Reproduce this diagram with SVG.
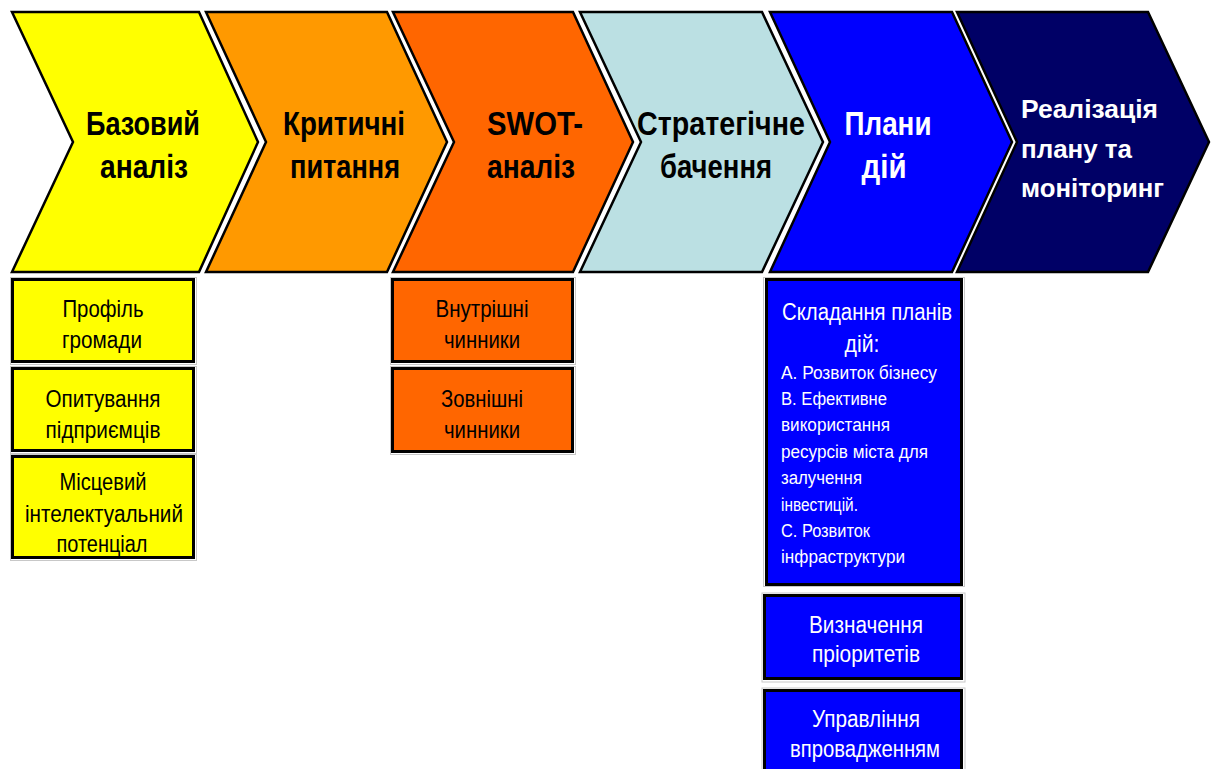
<svg xmlns="http://www.w3.org/2000/svg" width="1212" height="769" viewBox="0 0 1212 769">
<style>
.chev{stroke:#000;stroke-width:2.5;stroke-linejoin:miter}
.box{stroke:#000;stroke-width:3}
.shadow{fill:none;stroke:#c8c8c8;stroke-width:1}
.t{font-family:"Liberation Sans",Arial,sans-serif;font-weight:bold;font-size:34px;text-anchor:middle}
.tr{font-family:"Liberation Sans",Arial,sans-serif;font-weight:bold;font-size:26px}
.s{font-family:"Liberation Sans",Arial,sans-serif;font-size:23px;text-anchor:middle}
.l{font-family:"Liberation Sans",Arial,sans-serif;font-size:18px}
.b{fill:#000}
.w{fill:#fff}
</style>
<rect width="1212" height="769" fill="#fff"/>
<g id="connectors"></g>

<g id="step1">
<path class="chev" fill="#FFFF00" d="M12,12 H199 L258,142 L199,272 H12 L73,142 Z"/>
<text class="t b" x="143" y="135" textLength="114" lengthAdjust="spacingAndGlyphs">Базовий</text>
<text class="t b" x="144" y="178" textLength="88" lengthAdjust="spacingAndGlyphs">аналіз</text>
</g>
<g id="step2">
<path class="chev" fill="#FF9900" d="M206,12 H387 L447,142 L387,272 H206 L266,142 Z"/>
<text class="t b" x="344" y="135" textLength="122" lengthAdjust="spacingAndGlyphs">Критичні</text>
<text class="t b" x="345" y="178" textLength="110" lengthAdjust="spacingAndGlyphs">питання</text>
</g>
<g id="step3">
<path class="chev" fill="#FF6600" d="M393,12 H573 L633,142 L573,272 H393 L454,142 Z"/>
<text class="t b" x="535" y="135" textLength="96" lengthAdjust="spacingAndGlyphs">SWOT-</text>
<text class="t b" x="531" y="178" textLength="88" lengthAdjust="spacingAndGlyphs">аналіз</text>
</g>
<g id="step4">
<path class="chev" fill="#BBE0E3" d="M580,12 H762 L823,142 L762,272 H580 L641,142 Z"/>
<text class="t b" x="721" y="135" textLength="168" lengthAdjust="spacingAndGlyphs">Стратегічне</text>
<text class="t b" x="716" y="178" textLength="112" lengthAdjust="spacingAndGlyphs">бачення</text>
</g>
<g id="step5">
<path class="chev" fill="#0000FF" d="M770,12 H952 L1012,142 L952,272 H770 L830,142 Z"/>
<text class="t w" x="888" y="135" textLength="87" lengthAdjust="spacingAndGlyphs">Плани</text>
<text class="t w" x="884" y="178" textLength="45" lengthAdjust="spacingAndGlyphs">дій</text>
</g>
<g id="step6">
<path class="chev" fill="#000066" d="M957,12 H1148 L1209,142 L1148,272 H957 L1017,142 Z"/>
<text class="tr w" x="1021" y="118" textLength="137" lengthAdjust="spacingAndGlyphs">Реалізація</text>
<text class="tr w" x="1021" y="158" textLength="111" lengthAdjust="spacingAndGlyphs">плану та</text>
<text class="tr w" x="1021" y="197" textLength="143" lengthAdjust="spacingAndGlyphs">моніторинг</text>
</g>

<g id="profile">
<rect class="shadow" x="10.5" y="277.5" width="186" height="87"/>
<rect class="box" fill="#FFFF00" x="12.5" y="279.5" width="181" height="82"/>
<text class="s b" x="103" y="317" textLength="81" lengthAdjust="spacingAndGlyphs">Профіль</text>
<text class="s b" x="102" y="348" textLength="80" lengthAdjust="spacingAndGlyphs">громади</text>
</g>
<g id="survey">
<rect class="shadow" x="10.5" y="366.5" width="186" height="87"/>
<rect class="box" fill="#FFFF00" x="12.5" y="368.5" width="181" height="82"/>
<text class="s b" x="103" y="407" textLength="115" lengthAdjust="spacingAndGlyphs">Опитування</text>
<text class="s b" x="103" y="438" textLength="115" lengthAdjust="spacingAndGlyphs">підприємців</text>
</g>
<g id="potential">
<rect class="shadow" x="10.5" y="454.5" width="186" height="106"/>
<rect class="box" fill="#FFFF00" x="12.5" y="456.5" width="181" height="101"/>
<text class="s b" x="103" y="490" textLength="87" lengthAdjust="spacingAndGlyphs">Місцевий</text>
<text class="s b" x="104" y="522" textLength="158" lengthAdjust="spacingAndGlyphs">інтелектуальний</text>
<text class="s b" x="102" y="552" textLength="91" lengthAdjust="spacingAndGlyphs">потенціал</text>
</g>

<g id="internal">
<rect class="shadow" x="390.5" y="277.5" width="185" height="87"/>
<rect class="box" fill="#FF6600" x="392.5" y="279.5" width="180" height="82"/>
<text class="s b" x="482" y="317" textLength="93" lengthAdjust="spacingAndGlyphs">Внутрішні</text>
<text class="s b" x="482" y="348" textLength="76" lengthAdjust="spacingAndGlyphs">чинники</text>
</g>
<g id="external">
<rect class="shadow" x="390.5" y="366.5" width="185" height="88"/>
<rect class="box" fill="#FF6600" x="392.5" y="368.5" width="180" height="83"/>
<text class="s b" x="482" y="407" textLength="82" lengthAdjust="spacingAndGlyphs">Зовнішні</text>
<text class="s b" x="482" y="438" textLength="76" lengthAdjust="spacingAndGlyphs">чинники</text>
</g>

<g id="plans">
<rect class="shadow" x="763.5" y="277.5" width="201" height="309"/>
<rect class="box" fill="#0000FF" x="766.5" y="279.5" width="195" height="305"/>
<text class="s w" x="867" y="320" textLength="170" lengthAdjust="spacingAndGlyphs">Складання планів</text>
<text class="s w" x="862" y="352" textLength="35" lengthAdjust="spacingAndGlyphs">дій:</text>
<text class="l w" x="781" y="379" textLength="156" lengthAdjust="spacingAndGlyphs">А.  Розвиток бізнесу</text>
<text class="l w" x="781" y="405" textLength="106" lengthAdjust="spacingAndGlyphs">В. Ефективне</text>
<text class="l w" x="781" y="431" textLength="109" lengthAdjust="spacingAndGlyphs">використання</text>
<text class="l w" x="781" y="458" textLength="147" lengthAdjust="spacingAndGlyphs">ресурсів міста для</text>
<text class="l w" x="781" y="484" textLength="81" lengthAdjust="spacingAndGlyphs">залучення</text>
<text class="l w" x="781" y="511" textLength="77" lengthAdjust="spacingAndGlyphs">інвестицій.</text>
<text class="l w" x="781" y="537" textLength="89" lengthAdjust="spacingAndGlyphs">С. Розвиток</text>
<text class="l w" x="781" y="563" textLength="124" lengthAdjust="spacingAndGlyphs">інфраструктури</text>
</g>
<g id="priorities">
<rect class="shadow" x="762" y="593" width="203" height="89"/>
<rect class="box" fill="#0000FF" x="764.5" y="595.5" width="197" height="83"/>
<text class="s w" x="866" y="633" textLength="114" lengthAdjust="spacingAndGlyphs">Визначення</text>
<text class="s w" x="866" y="662" textLength="108" lengthAdjust="spacingAndGlyphs">пріоритетів</text>
</g>
<g id="management">
<rect class="shadow" x="762" y="688" width="203" height="90"/>
<rect class="box" fill="#0000FF" x="764.5" y="690.5" width="197" height="85"/>
<text class="s w" x="866" y="727" textLength="108" lengthAdjust="spacingAndGlyphs">Управління</text>
<text class="s w" x="865" y="757" textLength="150" lengthAdjust="spacingAndGlyphs">впровадженням</text>
</g>
</svg>
